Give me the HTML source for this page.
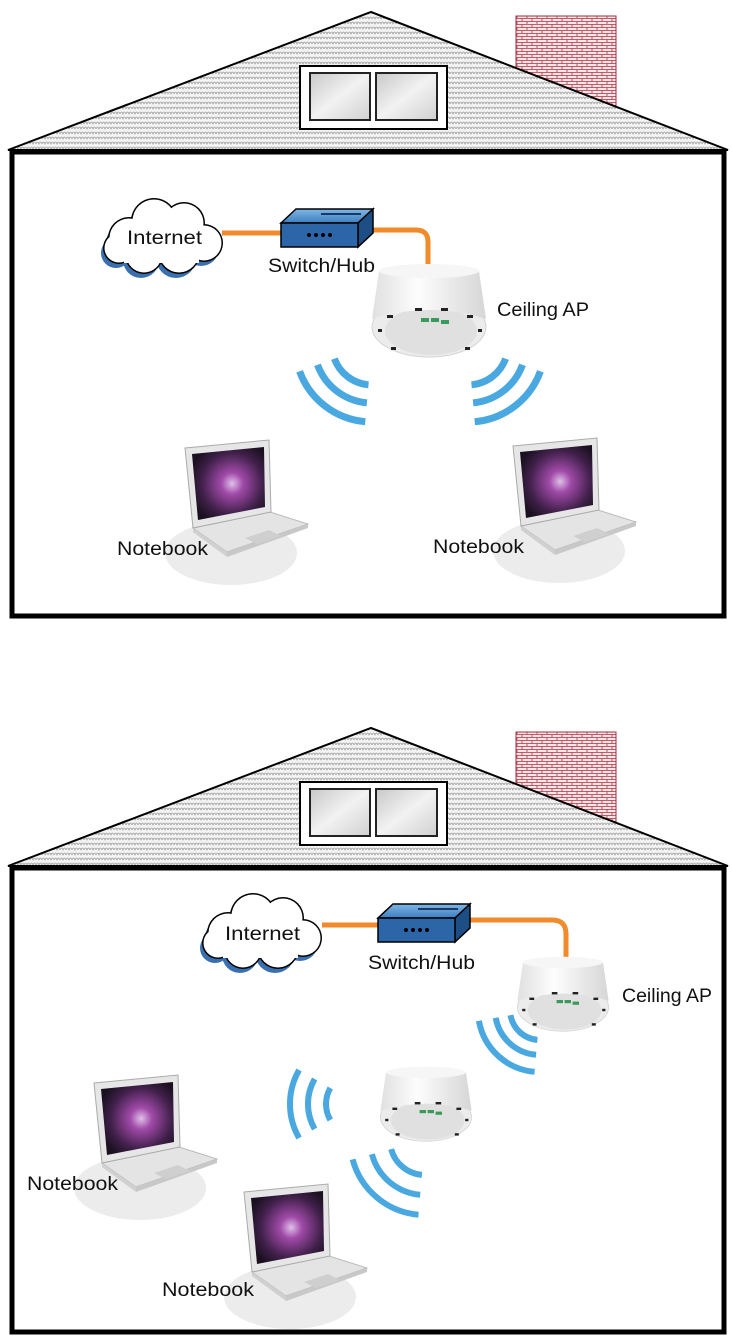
<!DOCTYPE html>
<html><head><meta charset="utf-8"><style>
html,body{margin:0;padding:0;background:#fff;}
svg{display:block;}
text{font-family:"Liberation Sans",sans-serif;fill:#111;}
</style></head><body>
<svg width="732" height="1344" viewBox="0 0 732 1344" xmlns="http://www.w3.org/2000/svg">
<defs>
<pattern id="shingle" width="6" height="5" patternUnits="userSpaceOnUse">
<rect width="6" height="5" fill="#f4f4f4"/>
<path d="M0,4 Q1.5,0 3,4 Q4.5,0 6,4" fill="none" stroke="#9a9a9a" stroke-width="0.7"/>
</pattern>
<pattern id="brick" width="10" height="6" patternUnits="userSpaceOnUse">
<rect width="10" height="6" fill="#f6e6e8"/>
<path d="M0,0.5H10M0,3.5H10M2,0.5V3.5M7,3.5V6" stroke="#b03040" stroke-width="0.8" fill="none"/>
</pattern>
<linearGradient id="glass" x1="0" y1="0" x2="1" y2="1">
<stop offset="0" stop-color="#c8c8c8"/><stop offset="0.5" stop-color="#f2f2f2"/><stop offset="1" stop-color="#d0d0d0"/>
</linearGradient>
<radialGradient id="scr" cx="0.55" cy="0.5" r="0.6">
<stop offset="0" stop-color="#e0c0e8"/><stop offset="0.25" stop-color="#a04aa8"/><stop offset="0.7" stop-color="#40204a"/><stop offset="1" stop-color="#1a1020"/>
</radialGradient>
<linearGradient id="apbody" x1="0" y1="0" x2="1" y2="0">
<stop offset="0" stop-color="#e0e0e0"/><stop offset="0.4" stop-color="#fdfdfd"/><stop offset="1" stop-color="#d6d6d6"/>
</linearGradient>
<linearGradient id="swtop" x1="0" y1="0" x2="0" y2="1">
<stop offset="0" stop-color="#7fb6e6"/><stop offset="1" stop-color="#3d7fc0"/>
</linearGradient>

<g id="house">
<rect x="516" y="16" width="100" height="120" fill="url(#brick)" stroke="#a03040" stroke-width="1"/>
<polygon points="8,150 371,12 728,150" fill="url(#shingle)" stroke="#000" stroke-width="2"/>
<rect x="300" y="66" width="147" height="63" fill="#fff" stroke="#000" stroke-width="2"/>
<rect x="310" y="73" width="60" height="47" fill="url(#glass)" stroke="#222" stroke-width="2"/>
<rect x="376" y="73" width="61" height="47" fill="url(#glass)" stroke="#222" stroke-width="2"/>
<rect x="12" y="152" width="712" height="464" fill="#fff" stroke="#000" stroke-width="5"/>
</g>

<g id="cloud">
<g fill="#3a6fb0">
<circle cx="27" cy="50" r="20"/><circle cx="52" cy="33" r="22"/><circle cx="82" cy="35" r="20"/><circle cx="102" cy="55" r="18"/><circle cx="77" cy="65" r="20"/><circle cx="42" cy="67" r="18"/><circle cx="17" cy="60" r="15"/>
</g>
<g fill="#000">
<circle cx="30" cy="45" r="21"/><circle cx="55" cy="28" r="23"/><circle cx="85" cy="30" r="21"/><circle cx="105" cy="50" r="19"/><circle cx="80" cy="60" r="21"/><circle cx="45" cy="62" r="19"/><circle cx="20" cy="55" r="16"/>
</g>
<g fill="#fff">
<circle cx="30" cy="45" r="19.5"/><circle cx="55" cy="28" r="21.5"/><circle cx="85" cy="30" r="19.5"/><circle cx="105" cy="50" r="17.5"/><circle cx="80" cy="60" r="19.5"/><circle cx="45" cy="62" r="17.5"/><circle cx="20" cy="55" r="14.5"/>
<rect x="25" y="35" width="75" height="35"/>
</g>
</g>

<g id="switch">
<polygon points="0,14 15,0 92,0 77,14" fill="url(#swtop)" stroke="#000" stroke-width="1.5"/>
<polygon points="77,14 92,0 92,24 77,38" fill="#1d4f86" stroke="#000" stroke-width="1.5"/>
<rect x="0" y="14" width="77" height="24" fill="#2c66a8" stroke="#000" stroke-width="1.5"/>
<path d="M40,5 L80,5" stroke="#1a3a66" stroke-width="2"/>
<g fill="#000"><circle cx="28" cy="26" r="2"/><circle cx="35" cy="26" r="2"/><circle cx="42" cy="26" r="2"/><circle cx="49" cy="26" r="2"/></g>
</g>

<g id="ap">
<ellipse cx="60" cy="64" rx="57" ry="30" fill="#ececec" stroke="#d4d4d4" stroke-width="1"/>
<ellipse cx="62" cy="68" rx="46" ry="24" fill="#e0e0e0"/>
<path d="M10,8 L3,56 Q60,38 117,56 L110,8 Z" fill="url(#apbody)"/>
<ellipse cx="60" cy="8" rx="50" ry="7" fill="#f6f6f6"/>
<g fill="#222"><rect x="18" y="52" width="6" height="3"/><rect x="46" y="45" width="7" height="3"/><rect x="72" y="45" width="7" height="3"/><rect x="98" y="52" width="6" height="3"/><rect x="9" y="66" width="4" height="3"/><rect x="109" y="66" width="4" height="3"/><rect x="22" y="84" width="5" height="3"/><rect x="96" y="84" width="5" height="3"/></g>
<g fill="#3a9a5a"><rect x="52" y="55" width="8" height="4"/><rect x="62" y="55" width="8" height="4"/><rect x="72" y="57" width="8" height="4"/></g>
</g>

<g id="laptop">
<ellipse cx="46" cy="113" rx="66" ry="32" fill="#ececec"/>
<polygon points="8,88 85,72 123,84 42,112" fill="#e4e4e4" stroke="#bbb" stroke-width="1"/>
<polygon points="42,112 123,84 123,88 42,117" fill="#c8c8c8"/>
<polygon points="8,88 42,112 42,117 8,92" fill="#d0d0d0"/>
<polygon points="60,98 84,90 96,96 72,104" fill="#cfcfcf"/>
<polygon points="0,8 84,0 86,72 8,88" fill="#e6e6e6" stroke="#aaa" stroke-width="1"/>
<polygon points="7,14 79,7 80,67 13,80" fill="url(#scr)"/>
</g>
</defs>

<!-- TOP -->
<use href="#house"/>
<path d="M222,233 H282 M372,230 H416 Q428,230 428,242 V265" fill="none" stroke="#f08a2a" stroke-width="5"/>
<use href="#cloud" x="99" y="193"/>
<use href="#switch" x="281" y="209"/>
<use href="#ap" x="369" y="263"/>
<g fill="none" stroke="#4aa8e0" stroke-width="7">
<path d="M368.5,384.8 A40,40 0 0 1 334.4,358.7"/>
<path d="M366.9,402.8 A58,58 0 0 1 317.5,364.8"/>
<path d="M365.3,421.7 A77,77 0 0 1 299.6,371.3"/>
<path d="M471.5,384.8 A40,40 0 0 0 505.6,358.7"/>
<path d="M473.1,402.8 A58,58 0 0 0 522.5,364.8"/>
<path d="M474.7,421.7 A77,77 0 0 0 540.4,371.3"/>
</g>
<use href="#laptop" x="185" y="440"/>
<use href="#laptop" x="513" y="438"/>
<text x="127" y="244" font-size="19" textLength="75" lengthAdjust="spacingAndGlyphs">Internet</text>
<text x="268" y="272" font-size="19" textLength="107" lengthAdjust="spacingAndGlyphs">Switch/Hub</text>
<text x="497" y="316" font-size="19" textLength="92" lengthAdjust="spacingAndGlyphs">Ceiling AP</text>
<text x="117" y="555" font-size="19" textLength="91" lengthAdjust="spacingAndGlyphs">Notebook</text>
<text x="433" y="553" font-size="19" textLength="91" lengthAdjust="spacingAndGlyphs">Notebook</text>

<!-- BOTTOM -->
<use href="#house" y="716"/>
<path d="M322,925 H380 M470,920 H552 Q566,920 566,934 V958" fill="none" stroke="#f08a2a" stroke-width="5"/>
<use href="#cloud" x="198" y="888"/>
<use href="#switch" x="378" y="904"/>
<g transform="translate(515,956) scale(0.8)"><use href="#ap"/></g>
<g transform="translate(378,1066) scale(0.8)"><use href="#ap"/></g>
<g fill="none" stroke="#4aa8e0" stroke-width="6">
<path d="M537.4,1039.9 A30,30 0 0 1 510.5,1015.2"/>
<path d="M536.1,1054.8 A45,45 0 0 1 495.7,1017.8"/>
<path d="M534.6,1071.8 A62,62 0 0 1 478.9,1020.8"/>
<path d="M330.3,1120.0 A32,32 0 0 1 330.3,1088.0"/>
<path d="M314.7,1129.0 A50,50 0 0 1 314.7,1079.0"/>
<path d="M299.1,1138.0 A68,68 0 0 1 299.1,1070.0"/>
<path d="M421.9,1174.9 A35,35 0 0 1 391.2,1149.1"/>
<path d="M420.2,1194.8 A55,55 0 0 1 371.9,1154.2"/>
<path d="M418.5,1214.7 A75,75 0 0 1 352.6,1159.4"/>
</g>
<use href="#laptop" x="94" y="1075"/>
<use href="#laptop" x="244" y="1184"/>
<text x="225" y="940" font-size="19" textLength="75" lengthAdjust="spacingAndGlyphs">Internet</text>
<text x="368" y="969" font-size="19" textLength="107" lengthAdjust="spacingAndGlyphs">Switch/Hub</text>
<text x="622" y="1002" font-size="19" textLength="90" lengthAdjust="spacingAndGlyphs">Ceiling AP</text>
<text x="27" y="1190" font-size="19" textLength="91" lengthAdjust="spacingAndGlyphs">Notebook</text>
<text x="162" y="1296" font-size="19" textLength="92" lengthAdjust="spacingAndGlyphs">Notebook</text>
</svg>
</body></html>
